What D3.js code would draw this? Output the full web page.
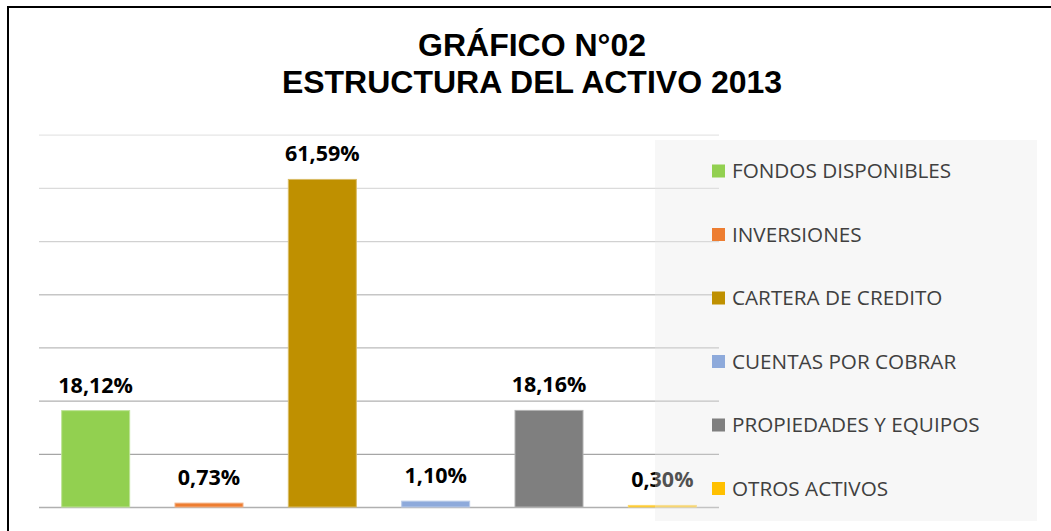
<!DOCTYPE html>
<html>
<head>
<meta charset="utf-8">
<script src="https://cdn.jsdelivr.net/npm/d3@7"></script>
<style>
  body { margin: 0; background: #fff; }
  svg { display: block; }
</style>
</head>
<body>
<div id="chart"></div>
<script>
// chart data
const categories = ['FONDOS DISPONIBLES', 'INVERSIONES', 'CARTERA DE CREDITO',
  'CUENTAS POR COBRAR', 'PROPIEDADES Y EQUIPOS', 'OTROS ACTIVOS'];
const shares = [0.1812, 0.0073, 0.6159, 0.0110, 0.1816, 0.0030];
const colors = ['#92d050', '#ed7d31', '#bf9000', '#8eaadb', '#7f7f7f', '#ffc000'];
const gridTicks = [0, 0.1, 0.2, 0.3, 0.4, 0.5, 0.6, 0.7];
const titleLines = ['GRÁFICO N°02', 'ESTRUCTURA DEL ACTIVO 2013'];

const width = 1051, height = 531;
const plot = {left: 39, right: 719, top: 134.7, bottom: 507};

// percent with comma decimal, like the spanish excel chart
const es = d3.formatLocale({decimal: ',', thousands: '.', grouping: [3], currency: ['', '']});
const pct = es.format('.2%');

const svg = d3.select('#chart').append('svg')
  .attr('width', width)
  .attr('height', height);

// frame (only left and top edges are visible in the crop)
svg.append('path')
  .attr('d', 'M8,' + (height + 5) + 'V7H' + (width + 5))
  .attr('fill', 'none')
  .attr('stroke', '#000')
  .attr('stroke-width', 2);

// title
svg.append('g').selectAll('text')
  .data(titleLines).enter().append('text')
  .attr('x', 532)
  .attr('y', (d, i) => 56 + i * 37)
  .attr('text-anchor', 'middle')
  .attr('font-family', '"Liberation Sans", Arial, sans-serif')
  .attr('font-weight', 'bold')
  .attr('font-size', 32)
  .attr('fill', '#000')
  .text(d => d);

const x = d3.scaleBand()
  .domain(categories)
  .range([plot.left, plot.right])
  .paddingInner(0.4)
  .paddingOuter(0.2);

const y = d3.scaleLinear()
  .domain([0, 0.7])
  .range([plot.bottom, plot.top]);

// gridlines get lighter towards the top
const gridColor = d3.scaleLinear()
  .domain([0, 0.1, 0.7])
  .range(['#b0b0b0', '#a6a6a6', '#e6e6e6']);

const grid = svg.append('g')
  .attr('transform', 'translate(' + plot.left + ',0)')
  .call(d3.axisLeft(y).tickValues(gridTicks).tickSize(-(plot.right - plot.left)).tickFormat(''));
grid.select('.domain').remove();
grid.selectAll('.tick line')
  .attr('stroke', d => gridColor(d))
  .attr('stroke-width', 1.3);

// bars
svg.append('g').selectAll('rect')
  .data(shares).enter().append('rect')
  .attr('x', (d, i) => x(categories[i]))
  .attr('y', d => y(d))
  .attr('width', x.bandwidth())
  .attr('height', d => y(0) - y(d))
  .attr('fill', (d, i) => colors[i])
  .attr('stroke', (d, i) => d3.interpolateRgb(colors[i], '#fff')(0.4))
  .attr('stroke-width', 1);

// data labels
svg.append('g').selectAll('text')
  .data(shares).enter().append('text')
  .attr('x', (d, i) => x(categories[i]) + x.bandwidth() / 2)
  .attr('y', d => y(d) - 18)
  .attr('text-anchor', 'middle')
  .attr('font-family', '"Open Sans", sans-serif')
  .attr('font-weight', 'bold')
  .attr('font-size', 21.5)
  .attr('fill', '#000')
  .text(d => pct(d));

// legend, semi transparent box over the plot
const legend = svg.append('g');
legend.append('rect')
  .attr('x', 655).attr('y', 140)
  .attr('width', 382).attr('height', 381)
  .attr('fill', 'rgb(232,232,232)')
  .attr('fill-opacity', 0.35);

const items = legend.selectAll('g.item')
  .data(categories).enter().append('g')
  .attr('class', 'item')
  .attr('transform', (d, i) => 'translate(712,' + (171 + i * 63.5) + ')');
items.append('rect')
  .attr('x', 0).attr('y', -6.5)
  .attr('width', 13).attr('height', 13)
  .attr('fill', (d, i) => colors[i]);
items.append('text')
  .attr('x', 20)
  .attr('y', 7.4)
  .attr('font-family', '"Open Sans", sans-serif')
  .attr('font-size', 20.7)
  .attr('fill', '#404040')
  .text(d => d);
</script>
</body>
</html>
